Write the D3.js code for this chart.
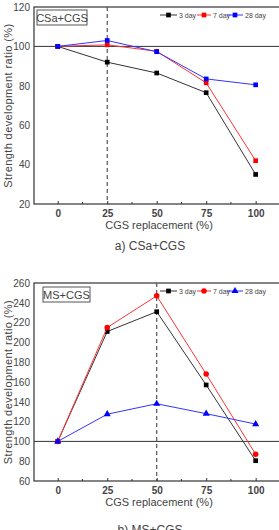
<!DOCTYPE html>
<html>
<head>
<meta charset="utf-8">
<script src="https://cdn.jsdelivr.net/npm/d3@7"></script>
<style>
  body { margin: 0; background: #fff; }
  text { font-family: "Liberation Sans", Arial, sans-serif; fill: #444; }
</style>
</head>
<body>
<script>
  // data
  var replacement = [0, 25, 50, 75, 100];
  var seriesNames = ['3 day', '7 day', '28 day'];

  var csa3 = [100, 92, 86.5, 76.5, 35];
  var csa7 = [100, 100.8, 97.5, 81.5, 42];
  var csa28 = [100, 103, 97.3, 83.5, 80.5];

  var ms3 = [100, 211, 231, 157, 80.5];
  var ms7 = [100, 215, 247, 168, 87];
  var ms28 = [100, 127.5, 138, 128, 117.5];

  var csaTicks = [20, 40, 60, 80, 100, 120];
  var msTicks = [60, 80, 100, 120, 140, 160, 180, 200, 220, 240, 260];

  const width = 279, height = 530;
  var colors = ['#000', '#f00', '#00f'];
  var lineColors = ['#333', '#f33', '#33f'];

  var svg = d3.select('body').append('svg')
    .attr('width', width)
    .attr('height', height);

  function panel(opt) {
    var g = svg.append('g');
    var x = d3.scaleLinear().domain([-12, 112.3]).range([34, 280]);
    var y = d3.scaleLinear().domain(opt.yDomain).range([opt.bottom, opt.top]);

    // frame
    g.append('rect')
      .attr('x', 34).attr('y', opt.top)
      .attr('width', 246).attr('height', opt.bottom - opt.top)
      .attr('fill', 'none').attr('stroke', '#333').attr('stroke-width', 1.2);

    // reference lines
    g.append('line')
      .attr('x1', 34).attr('x2', 280)
      .attr('y1', y(100)).attr('y2', y(100))
      .attr('stroke', '#333').attr('stroke-width', 1);
    g.append('line')
      .attr('x1', x(opt.dashAt)).attr('x2', x(opt.dashAt))
      .attr('y1', opt.top).attr('y2', opt.bottom)
      .attr('stroke', '#555').attr('stroke-width', 1.2)
      .attr('stroke-dasharray', '4,3');

    // axes, ticks inside
    var xAxis = d3.axisBottom(x).tickValues(replacement).tickSize(-3).tickPadding(6);
    var gx = g.append('g').attr('transform', 'translate(0,' + opt.bottom + ')').call(xAxis);
    gx.select('.domain').remove();
    gx.selectAll('line').attr('stroke', '#333');
    gx.selectAll('text').attr('font-size', 10).attr('font-weight', 'bold').style('fill', '#444')
      .style('font-family', '"Liberation Sans", Arial, sans-serif');
    g.selectAll('.minor').data([12.5, 37.5, 62.5, 87.5]).enter().append('line')
      .attr('x1', d => x(d)).attr('x2', d => x(d))
      .attr('y1', opt.bottom).attr('y2', opt.bottom - 2)
      .attr('stroke', '#333');

    var yAxis = d3.axisLeft(y).tickValues(opt.yTicks).tickSize(0).tickPadding(4);
    var gy = g.append('g').attr('transform', 'translate(34,0)').call(yAxis);
    gy.select('.domain').remove();
    gy.selectAll('text').attr('font-size', 10).style('fill', '#444')
      .style('font-family', '"Liberation Sans", Arial, sans-serif');

    // series
    var line = d3.line().x((d, i) => x(replacement[i])).y(d => y(d));
    opt.series.forEach(function (vals, k) {
      g.append('path').datum(vals)
        .attr('d', line)
        .attr('fill', 'none')
        .attr('stroke', lineColors[k])
        .attr('stroke-width', 1);
      g.selectAll('.m' + k).data(vals).enter().append('path')
        .attr('transform', (d, i) => 'translate(' + x(replacement[i]) + ',' + y(d) + ')')
        .attr('d', d3.symbol().type(opt.symbols[k]).size(opt.symbolSize[k]))
        .attr('fill', colors[k]);
    });

    // legend
    var lx = [[160, 177], [197, 211], [227, 243]];
    seriesNames.forEach(function (name, k) {
      var ly = opt.top + 8;
      g.append('line')
        .attr('x1', lx[k][0]).attr('x2', lx[k][1])
        .attr('y1', ly).attr('y2', ly)
        .attr('stroke', lineColors[k]);
      g.append('path')
        .attr('transform', 'translate(' + ((lx[k][0] + lx[k][1]) / 2) + ',' + ly + ')')
        .attr('d', d3.symbol().type(opt.symbols[k]).size(opt.symbolSize[k]))
        .attr('fill', colors[k]);
      g.append('text')
        .attr('x', lx[k][1] + 2).attr('y', ly + 2.5)
        .attr('font-size', 7)
        .text(name);
    });

    // label box
    g.append('rect')
      .attr('x', opt.box[0]).attr('y', opt.top + opt.box[1])
      .attr('width', opt.box[2]).attr('height', 15)
      .attr('fill', '#fff').attr('stroke', '#555');
    g.append('text')
      .attr('x', opt.box[0] + opt.box[2] / 2).attr('y', opt.top + opt.box[1] + 11.5)
      .attr('text-anchor', 'middle').attr('font-size', 11)
      .text(opt.label);

    // titles
    g.append('text')
      .attr('transform', 'translate(12,' + ((opt.top + opt.bottom) / 2) + ') rotate(-90)')
      .attr('text-anchor', 'middle').attr('font-size', 11)
      .attr('letter-spacing', 0.4)
      .text('Strength development ratio (%)');
    g.append('text')
      .attr('x', 159).attr('y', opt.bottom + 25)
      .attr('text-anchor', 'middle').attr('font-size', 11)
      .text('CGS replacement (%)');
    g.append('text')
      .attr('x', 150).attr('y', opt.captionY)
      .attr('text-anchor', 'middle').attr('font-size', 12)
      .text(opt.caption);
  }

  panel({
    top: 7, bottom: 204, yDomain: [20, 120], yTicks: csaTicks,
    dashAt: 25, series: [csa3, csa7, csa28],
    symbols: [d3.symbolSquare, d3.symbolSquare, d3.symbolSquare],
    symbolSize: [22, 22, 22],
    label: 'CSa+CGS', box: [37, 3, 50], caption: 'a) CSa+CGS', captionY: 250
  });

  panel({
    top: 283, bottom: 481, yDomain: [60, 260], yTicks: msTicks,
    dashAt: 50, series: [ms3, ms7, ms28],
    symbols: [d3.symbolSquare, d3.symbolCircle, d3.symbolTriangle],
    symbolSize: [22, 24, 22],
    label: 'MS+CGS', box: [43, 4, 47], caption: 'b) MS+CGS', captionY: 534
  });
</script>
</body>
</html>
